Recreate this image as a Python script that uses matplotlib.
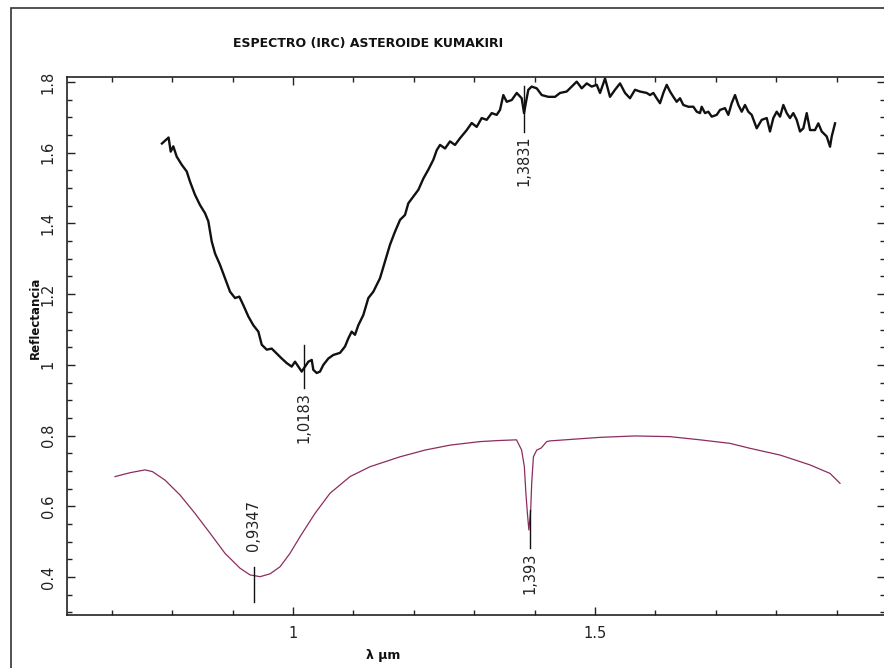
import matplotlib
matplotlib.use("Agg")
import matplotlib.pyplot as plt
from matplotlib.ticker import MultipleLocator, FuncFormatter
from matplotlib.patches import Rectangle

title = "ESPECTRO (IRC) ASTEROIDE KUMAKIRI"
xlabel = "λ μm"
ylabel = "Reflectancia"

# Asteroid spectrum (black)
ast_x = [0.783, 0.794, 0.7975, 0.8018, 0.8074, 0.8157, 0.824, 0.8295, 0.8377, 0.846,
         0.8543, 0.8598, 0.8654, 0.8709, 0.8791, 0.8874, 0.8957, 0.904, 0.9111, 0.9177,
         0.926, 0.9343, 0.9426, 0.9482, 0.9565, 0.9647, 0.973, 0.9813, 0.9896, 0.9978,
         1.0033, 1.0088, 1.0144, 1.0199, 1.0254, 1.031, 1.0336, 1.0392, 1.0447, 1.0502,
         1.0585, 1.0667, 1.0778, 1.0861, 1.0916, 1.0971, 1.1026, 1.1081, 1.1164, 1.1247,
         1.133, 1.144, 1.1523, 1.1606, 1.1689, 1.1772, 1.1854, 1.1909, 1.1992, 1.2075,
         1.2158, 1.224, 1.2323, 1.2379, 1.2434, 1.2517, 1.2599, 1.2682, 1.2765, 1.2876,
         1.2958, 1.3041, 1.3124, 1.3207, 1.329, 1.3372, 1.3427, 1.3482, 1.3538, 1.3621,
         1.3704, 1.3786, 1.3825, 1.3858, 1.3896, 1.3952, 1.4035, 1.4118, 1.4227, 1.4338,
         1.4421, 1.4531, 1.4614, 1.4697, 1.478, 1.4863, 1.4945, 1.5028, 1.5083, 1.5166,
         1.5248, 1.5331, 1.5414, 1.5497, 1.5579, 1.5662, 1.5745, 1.5856,
         1.5911, 1.5966, 1.6021, 1.6076, 1.6131, 1.6187, 1.6242, 1.6297, 1.6352, 1.6407,
         1.6462, 1.6545, 1.6628, 1.6684, 1.6738, 1.6766, 1.6821, 1.6876, 1.6932, 1.7015,
         1.7070, 1.7152, 1.7207, 1.7263, 1.7318, 1.7373, 1.7429, 1.7483, 1.7538, 1.7594,
         1.7677, 1.7760, 1.7843, 1.7897, 1.7952, 1.8008, 1.8063, 1.8118, 1.8174, 1.8228,
         1.8283, 1.8339, 1.8394, 1.8449, 1.8505, 1.8560, 1.8642, 1.8697, 1.8753, 1.8836,
         1.8891, 1.8919, 1.8974]
ast_y = [1.626, 1.643, 1.603, 1.618, 1.589, 1.566, 1.547, 1.518, 1.481, 1.452,
         1.429, 1.406, 1.349, 1.315, 1.283, 1.245, 1.207, 1.189, 1.193, 1.169,
         1.137, 1.112, 1.094, 1.057, 1.043, 1.046, 1.032, 1.018, 1.005, 0.995,
         1.009, 0.995, 0.981, 0.995, 1.009, 1.014, 0.986, 0.977, 0.981, 1.000,
         1.018, 1.028, 1.034, 1.052, 1.075, 1.094, 1.085, 1.112, 1.141, 1.189,
         1.207, 1.245, 1.292, 1.340, 1.377, 1.410, 1.424, 1.457, 1.476, 1.495,
         1.527, 1.552, 1.580, 1.607, 1.622, 1.612, 1.632, 1.622, 1.641, 1.664,
         1.684, 1.673, 1.698, 1.693, 1.712, 1.707, 1.721, 1.763, 1.744, 1.749,
         1.769, 1.754, 1.712, 1.744, 1.778, 1.787, 1.782, 1.763, 1.758, 1.758,
         1.769, 1.773, 1.787, 1.801, 1.782, 1.796, 1.787, 1.792, 1.769, 1.810,
         1.758, 1.778, 1.796, 1.769, 1.754, 1.778, 1.773, 1.769,
         1.763, 1.769, 1.754, 1.740, 1.769, 1.792, 1.773, 1.758, 1.744, 1.754,
         1.735, 1.730, 1.730, 1.716, 1.712, 1.730, 1.712, 1.716, 1.702, 1.707,
         1.721, 1.726, 1.707, 1.740, 1.763, 1.735, 1.716, 1.735, 1.716, 1.707,
         1.669, 1.693, 1.698, 1.660, 1.698, 1.716, 1.702, 1.735, 1.712, 1.698,
         1.712, 1.693, 1.660, 1.669, 1.712, 1.664, 1.664, 1.683, 1.660, 1.646,
         1.617, 1.646, 1.683]

# Reference spectrum (magenta)
ref_x = [0.7053, 0.7301, 0.755, 0.7674, 0.7881, 0.8129, 0.8377, 0.8626, 0.8874, 0.9122,
         0.9288, 0.9454, 0.9619, 0.9785, 0.995, 1.0116, 1.0364, 1.0613, 1.0944, 1.1275,
         1.1772, 1.2185, 1.2599, 1.3096, 1.3400, 1.3700, 1.3785, 1.3830, 1.3855, 1.3880,
         1.3905, 1.3935, 1.3952, 1.3980, 1.4035, 1.4110, 1.4200, 1.4255, 1.5083, 1.5662,
         1.6242, 1.6738, 1.7235, 1.7566, 1.8063, 1.8560, 1.8891, 1.9056]
ref_y = [0.684, 0.695, 0.703, 0.698, 0.674, 0.632, 0.580, 0.524, 0.467, 0.425,
         0.406, 0.401, 0.409, 0.429, 0.467, 0.514, 0.580, 0.637, 0.684, 0.712,
         0.740, 0.759, 0.773, 0.783, 0.786, 0.788, 0.759, 0.712, 0.638, 0.581,
         0.533, 0.590, 0.666, 0.740, 0.759, 0.765, 0.783, 0.785, 0.795, 0.799,
         0.797, 0.788, 0.778, 0.764, 0.745, 0.717, 0.693, 0.665]

# Marked band positions
mark_x = [1.0183, 1.3831, 0.9347, 1.393]
mark_y0 = [0.935, 1.659, 0.330, 0.482]
mark_y1 = [1.056, 1.790, 0.429, 0.590]
mark_lbl = ["1,0183", "1,3831", "0,9347", "1,393"]
mark_ty = [0.922, 1.650, 0.474, 0.470]
mark_va = ["top", "top", "bottom", "top"]

fig = plt.figure(figsize=(8.84, 6.68), dpi=100)
fig.patch.set_facecolor("white")

# outer frame
fig.patches.append(Rectangle((11 / 884, -0.05), 1.1, 1 - 8 / 668 + 0.05,
                             transform=fig.transFigure, fill=False,
                             edgecolor="#333333", linewidth=1.2))

ax = fig.add_axes([67 / 884, 1 - 615 / 668, (885 - 67) / 884, (615 - 77) / 668])
ax.plot(ast_x, ast_y, color="#111111", linewidth=1.7)
ax.plot(ref_x, ref_y, color="#8c2d5e", linewidth=0.9)

for mx, y0, y1, lbl, ty, va in zip(mark_x, mark_y0, mark_y1, mark_lbl, mark_ty, mark_va):
    ax.plot([mx, mx], [y0, y1], color="#111111", linewidth=1.0)
    ax.text(mx, ty, lbl, rotation=90, ha="center", va=va, fontsize=10.5,
            color="#222222")

ax.set_xlim(0.6258, 1.9801)
ax.set_ylim(0.2926, 1.8141)
ax.xaxis.set_major_locator(MultipleLocator(0.5))
ax.xaxis.set_minor_locator(MultipleLocator(0.1))
ax.yaxis.set_major_locator(MultipleLocator(0.2))
ax.yaxis.set_minor_locator(MultipleLocator(0.05))
ax.xaxis.set_major_formatter(FuncFormatter(lambda v, p: f"{v:g}"))
ax.yaxis.set_major_formatter(FuncFormatter(lambda v, p: "1" if abs(v - 1) < 1e-9 else f"{v:.1f}"))
ax.tick_params(which="both", direction="in", top=True, right=True, colors="#222222",
               labelsize=10.5, width=1.0)
ax.tick_params(which="major", length=6)
ax.tick_params(which="minor", length=3.5)
ax.tick_params(axis="y", labelrotation=90, pad=8)
ax.tick_params(axis="x", pad=8)
for lab in ax.get_yticklabels():
    lab.set_va("center")
for s in ax.spines.values():
    s.set_linewidth(1.2)
    s.set_color("#222222")

fig.text(233 / 884, 1 - 43 / 668, title, fontsize=9, fontweight="bold",
         ha="left", va="center", color="#111111")
fig.text(35 / 884, 1 - 318 / 668, ylabel, fontsize=8.5, fontweight="bold",
         rotation=90, ha="center", va="center", color="#111111")
fig.text(383 / 884, 1 - 655 / 668, xlabel, fontsize=9, fontweight="bold",
         ha="center", va="center", color="#111111")

fig.savefig("out.png", dpi=100, facecolor="white")
